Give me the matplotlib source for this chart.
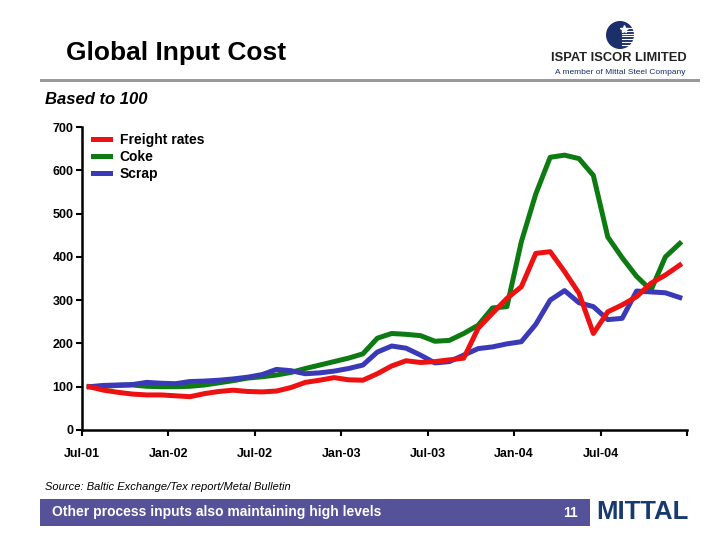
import numpy as np
import matplotlib
matplotlib.use("Agg")
import matplotlib.pyplot as plt
from matplotlib.patches import Rectangle, Circle
from matplotlib.lines import Line2D

plt.rcParams["font.family"] = ["Liberation Sans", "DejaVu Sans"]

# ── Data (index, monthly, Jul-01 .. Dec-04) ──────────────────────────────────
freight = [100, 92, 87, 83, 81, 81, 79, 77, 84, 89, 92, 89, 88, 90, 98,
           110, 115, 121, 116, 115, 130, 148, 160, 156, 158, 162, 166, 235,
           270, 304, 331, 408, 412, 366, 316, 223, 273, 289, 308, 339, 358, 381]
coke = [100, 101, 103, 104, 101, 100, 100, 101, 104, 109, 114, 120, 123, 127,
        133, 142, 150, 158, 166, 176, 212, 223, 221, 218, 205, 207, 223, 242,
        282, 285, 435, 545, 630, 635, 627, 588, 446, 398, 355, 323, 400, 431]
scrap = [100, 103, 104, 105, 110, 108, 107, 112, 113, 115, 118, 122, 128, 140,
         137, 130, 132, 136, 142, 150, 180, 194, 189, 173, 155, 158, 173, 188,
         192, 199, 204, 244, 300, 322, 294, 285, 255, 258, 321, 319, 317, 306]
tick_labels = ["Jul-01", "Jan-02", "Jul-02", "Jan-03", "Jul-03", "Jan-04", "Jul-04", ""]
series_names = ["Freight rates", "Coke", "Scrap"]

RED = "#EE1111"
GREEN = "#0E7A12"
BLUE = "#3A3AB8"
NAVY = "#1B2F6B"

W, H = 720, 540
fig = plt.figure(figsize=(7.2, 5.4), dpi=100)


def fx(px):
    return px / W


def fy(py):
    return 1 - py / H


# ── Header ───────────────────────────────────────────────────────────────────
fig.text(fx(66), fy(53), "Global Input Cost", fontsize=19, fontweight="heavy",
         va="center", ha="left")
fig.add_artist(Rectangle((fx(40), fy(82)), fx(660), 3 / H, color="#999999",
                         transform=fig.transFigure, lw=0))
fig.text(fx(45), fy(100), "Based to 100", fontsize=12, fontweight="bold",
         style="italic", va="center", ha="left")

# ISPAT logo (rough)
lax = fig.add_axes([fx(603), fy(49), fx(34), 28 / H])
lax.set_xlim(-1.2, 1.2)
lax.set_ylim(-1, 1)
lax.set_aspect("equal")
lax.axis("off")
lax.add_patch(Circle((0, 0), 0.95, color=NAVY))
for yy in np.linspace(-0.7, 0.5, 7):
    lax.plot([0.15, 1.0], [yy, yy], color="white", lw=0.8)
lax.plot([0.25], [0.45], marker="*", color="white", ms=6)
fig.text(fx(619), fy(58), "ISPAT ISCOR LIMITED", fontsize=9.3, fontweight="bold",
         color="#222222", ha="center", va="center")
fig.text(fx(620), fy(72), "A member of Mittal Steel Company", fontsize=6,
         color=NAVY, ha="center", va="center")

# ── Chart ────────────────────────────────────────────────────────────────────
ax = fig.add_axes([fx(82), fy(430), fx(605), 303 / H])
x = np.arange(len(freight)) + 0.5
ax.plot(x, coke, color=GREEN, lw=3.6, label=series_names[1], zorder=2)
ax.plot(x, scrap, color=BLUE, lw=3.6, label=series_names[2], zorder=3)
ax.plot(x, freight, color=RED, lw=3.6, label=series_names[0], zorder=4)

ax.set_xlim(0, 42)
ax.set_ylim(0, 700)
ax.set_xticks(np.arange(0, 43, 6))
ax.set_xticklabels(tick_labels)
ax.set_yticks(np.arange(0, 701, 100))
for s in ["top", "right"]:
    ax.spines[s].set_visible(False)
for s in ["left", "bottom"]:
    ax.spines[s].set_linewidth(1.8)
ax.tick_params(direction="out", length=4, width=1.5, labelsize=9, pad=9)
ax.tick_params(axis="y", pad=2)
for lbl in ax.get_xticklabels() + ax.get_yticklabels():
    lbl.set_fontweight("bold")

handles = [Line2D([], [], color=c, lw=3.6) for c in (RED, GREEN, BLUE)]
ax.legend(handles, series_names, loc="upper left", bbox_to_anchor=(0.0, 1.017),
          frameon=False, handlelength=1.2, handletextpad=0.7, labelspacing=0.22,
          borderpad=0.3, prop={"weight": "bold", "size": 10})

# ── Footer ───────────────────────────────────────────────────────────────────
fig.text(fx(45), fy(487), "Source: Baltic Exchange/Tex report/Metal Bulletin",
         fontsize=8, style="italic", va="center", ha="left")
fig.add_artist(Rectangle((fx(40), fy(526)), fx(550), 27 / H, color="#55529A",
                         transform=fig.transFigure, lw=0))
fig.text(fx(52), fy(512), "Other process inputs also maintaining high levels",
         fontsize=10, fontweight="bold", color="white", va="center", ha="left")
fig.text(fx(571), fy(513), "11", fontsize=10, fontweight="bold", color="white",
         va="center", ha="center")
fig.text(fx(642), fy(512), "MITTAL", fontsize=18.5, fontweight="bold",
         color="#183A6E", va="center", ha="center")

fig.savefig("out.png", dpi=100)
